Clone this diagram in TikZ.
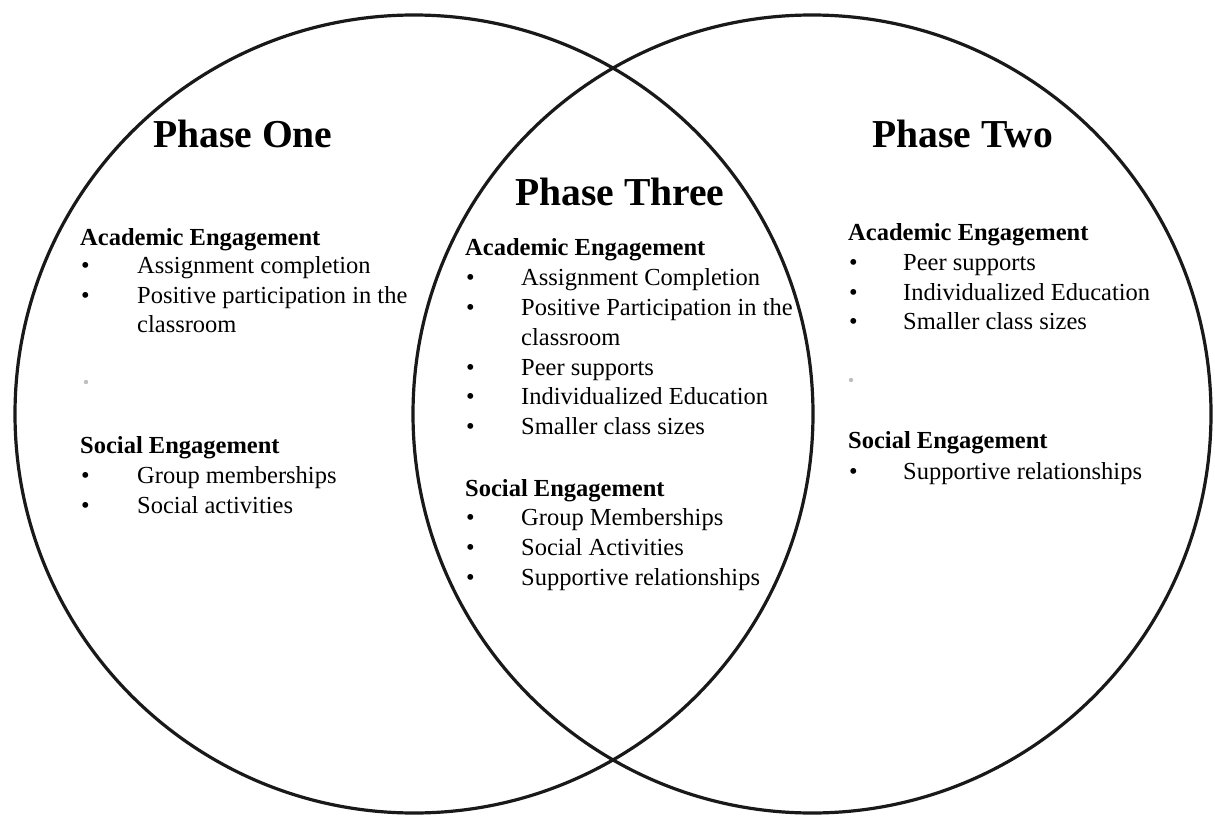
\documentclass[tikz,border=0pt]{standalone}
\usepackage{fontspec}
\setmainfont{Liberation Serif}
\begin{document}
\begin{tikzpicture}[x=1pt,y=-1pt,
  ring/.style={draw=black!90,line width=3.2pt},
  title/.style={anchor=base west,inner sep=0pt,font=\fontsize{39.6}{44}\selectfont\bfseries},
  head/.style={anchor=base west,inner sep=0pt,font=\fontsize{24.5}{29}\selectfont\bfseries},
  item/.style={anchor=base west,inner sep=0pt,font=\fontsize{24.5}{29}\selectfont},
  bul/.style={anchor=base west,inner sep=0pt,font=\fontsize{24.5}{29}\selectfont},
  faint/.style={fill=black!25}]
\useasboundingbox (0,0) rectangle (1215,816);
\fill[white] (0,0) rectangle (1215,816);
% circles
\draw[ring] (414,414) circle[radius=399];
\draw[ring] (812,414) circle[radius=399];

% ---------- Phase One ----------
\node[title] (t1) at (153,147) {Phase One};
\node[head] (h1a) at (80,245) {Academic Engagement};
\node[bul] (b1a) at (81,273) {\textbullet};
\node[item] (i1a) at (137,273) {Assignment completion};
\node[bul] (b1b) at (81,303) {\textbullet};
\node[item] (i1b) at (137,303) {Positive participation in the};
\node[item] (i1c) at (137,332) {classroom};
\fill[faint] (86,382) circle[radius=2.2];
\node[head] (h1s) at (80,453) {Social Engagement};
\node[bul] (b1c) at (81,483) {\textbullet};
\node[item] (i1d) at (137,483) {Group memberships};
\node[bul] (b1d) at (81,513) {\textbullet};
\node[item] (i1e) at (137,513) {Social activities};

% ---------- Phase Three ----------
\node[title] (t3) at (515,205) {Phase Three};
\node[head] (h3a) at (465,255) {Academic Engagement};
\node[bul] (b3a) at (466,285) {\textbullet};
\node[item] (i3a) at (521,285) {Assignment Completion};
\node[bul] (b3b) at (466,315) {\textbullet};
\node[item] (i3b) at (521,315) {Positive Participation in the};
\node[item] (i3c) at (521,345) {classroom};
\node[bul] (b3c) at (466,375) {\textbullet};
\node[item] (i3d) at (521,375) {Peer supports};
\node[bul] (b3d) at (466,404) {\textbullet};
\node[item] (i3e) at (521,404) {Individualized Education};
\node[bul] (b3e) at (466,434) {\textbullet};
\node[item] (i3f) at (521,434) {Smaller class sizes};
\node[head] (h3s) at (465,496) {Social Engagement};
\node[bul] (b3f) at (466,525) {\textbullet};
\node[item] (i3g) at (521,525) {Group Memberships};
\node[bul] (b3g) at (466,555) {\textbullet};
\node[item] (i3h) at (521,555) {Social Activities};
\node[bul] (b3h) at (466,585) {\textbullet};
\node[item] (i3i) at (521,585) {Supportive relationships};

% ---------- Phase Two ----------
\node[title] (t2) at (872,147) {Phase Two};
\node[head] (h2a) at (848,240) {Academic Engagement};
\node[bul] (b2a) at (849,270) {\textbullet};
\node[item] (i2a) at (903,270) {Peer supports};
\node[bul] (b2b) at (849,300) {\textbullet};
\node[item] (i2b) at (903,300) {Individualized Education};
\node[bul] (b2c) at (849,329) {\textbullet};
\node[item] (i2c) at (903,329) {Smaller class sizes};
\fill[faint] (851,380) circle[radius=2.2];
\node[head] (h2s) at (848,448) {Social Engagement};
\node[bul] (b2d) at (849,479) {\textbullet};
\node[item] (i2d) at (903,479) {Supportive relationships};
\end{tikzpicture}
\end{document}
